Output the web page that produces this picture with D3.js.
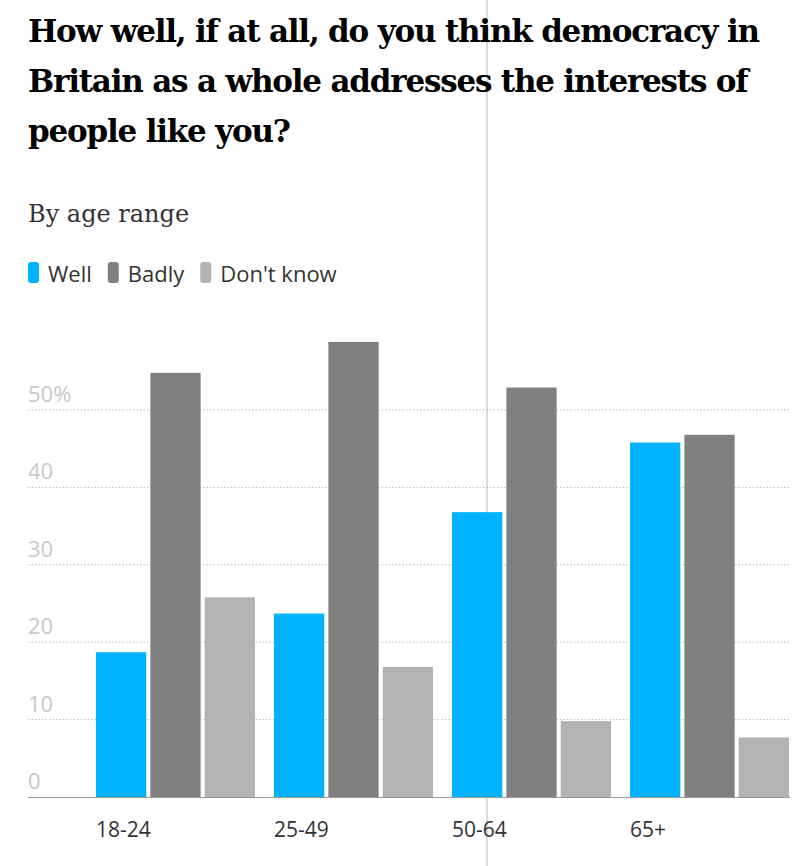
<!DOCTYPE html>
<html><head><meta charset="utf-8">
<script src="https://cdn.jsdelivr.net/npm/d3@7"></script>
<style>body{margin:0;background:#fff}</style></head>
<body><svg id="c" width="812" height="866"></svg>
<script>
const categories = ["18-24","25-49","50-64","65+"];
const seriesNames = ["Well","Badly","Don't know"];
const well = [18.7,23.7,36.8,45.8];
const badly = [54.8,58.8,52.9,46.8];
const dontKnow = [25.8,16.8,9.8,7.7];
const yTicks = [0,10,20,30,40,50];
const colors = ["#00b2ff","#808080","#b3b3b3"];
const series = [well,badly,dontKnow];

const svg = d3.select("#c");
// vertical guide line artifact
svg.append("line").attr("x1",487).attr("x2",487).attr("y1",0).attr("y2",866).attr("stroke","#d0d0d0").attr("stroke-width",1.5);

const title = ["How well, if at all, do you think democracy in","Britain as a whole addresses the interests of","people like you?"];
svg.append("text").attr("font-family","DejaVu Serif, Georgia, serif").attr("font-weight","bold").attr("font-size",31).attr("fill","#000")
 .selectAll("tspan").data(title).join("tspan").attr("x",28).attr("y",(d,i)=>42+i*50).text(d=>d).attr("letter-spacing",-1.2);
svg.append("text").attr("x",28).attr("y",222).attr("font-family","DejaVu Serif, Georgia, serif").attr("font-size",24).attr("fill","#333").text("By age range");

const leg = svg.append("g").attr("font-family","Open Sans, sans-serif").attr("font-size",22).attr("fill","#333");
let lx=28;
seriesNames.forEach((n,i)=>{
  leg.append("rect").attr("x",lx).attr("y",262).attr("width",11).attr("height",21).attr("rx",3).attr("fill",colors[i]);
  const t=leg.append("text").attr("x",lx+20).attr("y",282).text(n);
  lx += 20 + t.node().getComputedTextLength() + 16;
});

const y = d3.scaleLinear().domain([0,50]).range([797,410]);
const x0 = d3.scaleBand().domain(categories).range([96,789]).paddingInner(0.107).paddingOuter(0);
const x1 = d3.scaleBand().domain(d3.range(3)).range([0,x0.bandwidth()]).paddingInner(0.075);

const g = svg.append("g");
yTicks.forEach(t=>{
  if(t>0) g.append("line").attr("x1",28).attr("x2",790).attr("y1",y(t)).attr("y2",y(t)).attr("stroke","#bbb").attr("stroke-dasharray","1.5,2");
  g.append("text").attr("x",28).attr("y",y(t)-8).attr("font-family","Open Sans, sans-serif").attr("font-size",22).attr("fill","#c8c8c8").text(t===50?"50%":t);
});
categories.forEach((c,ci)=>{
  series.forEach((s,si)=>{
    g.append("rect").attr("x",x0(c)+x1(si)).attr("width",x1.bandwidth()).attr("y",y(s[ci])).attr("height",y(0)-y(s[ci])).attr("fill",colors[si]);
  });
  g.append("text").attr("x",x0(c)).attr("y",837).attr("font-family","Open Sans, sans-serif").attr("font-size",21).attr("fill","#333").text(c);
});
g.append("line").attr("x1",28).attr("x2",790).attr("y1",y(0)+0.5).attr("y2",y(0)+0.5).attr("stroke","#999");
</script></body></html>
